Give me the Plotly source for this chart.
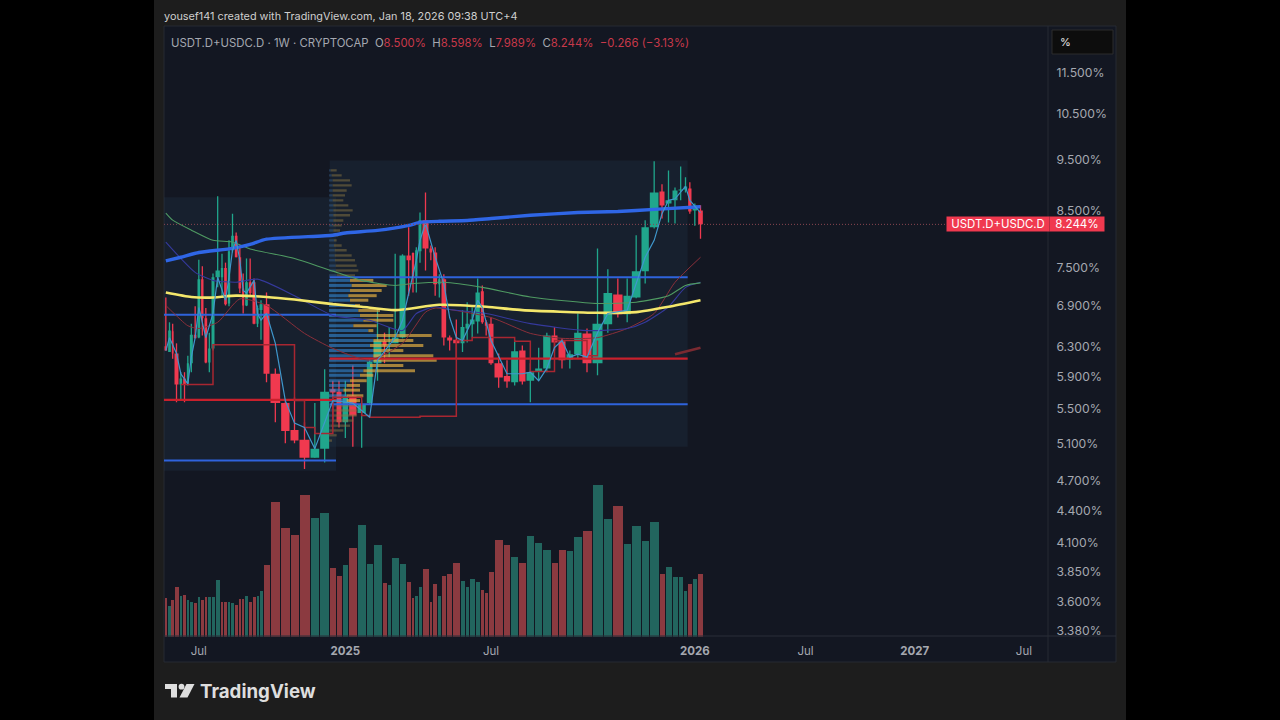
import numpy as np
import plotly.graph_objects as go

# ---------- Candles: week 1 .. 90 (last bar = week of 2026-01-12) ----------
opens = [6.31,6.23,6.52,6.21,5.80,5.88,5.81,6.08,6.47,6.43,
         7.31,6.71,6.09,6.28,7.34,7.34,7.49,6.93,7.79,8.04,
         7.67,7.16,6.90,7.26,7.26,6.63,6.83,6.92,5.94,5.57,
         5.25,5.14,4.94,5.04,5.74,5.71,5.34,5.66,5.45,5.57,
         6.08,6.38,6.35,6.35,6.43,7.70,7.74,7.34,7.77,8.32,
         7.82,7.75,7.23,7.31,6.43,6.40,6.35,6.56,6.62,6.66,
         7.12,6.65,6.63,6.08,5.91,5.83,6.25,5.85,5.97,6.01,
         6.46,6.38,6.13,6.20,6.49,6.08,6.62,7.07,6.77,7.02,
         7.44,8.19,8.86,8.63,8.69,8.88,8.90,8.92,8.50,8.50]
highs = [7.02,6.65,6.63,6.35,5.96,5.96,6.18,6.63,6.89,7.63,
         7.52,6.86,6.50,7.40,8.77,7.73,7.58,7.96,8.44,8.10,
         7.87,7.40,7.65,7.65,7.32,6.90,6.98,7.10,6.01,5.60,
         5.64,5.34,5.57,6.00,5.85,5.85,5.85,6.05,5.60,6.14,
         6.86,6.50,6.58,7.73,7.72,8.19,7.75,7.84,8.46,8.84,
         7.87,7.84,7.39,7.39,6.46,6.69,6.83,6.95,6.87,7.32,
         7.21,6.68,6.72,6.21,6.12,6.39,6.32,6.08,6.29,6.50,
         6.58,6.42,6.25,6.78,6.56,7.82,7.47,7.32,7.32,8.05,
         8.32,9.47,9.00,9.28,8.94,9.36,9.14,9.04,8.63,8.598]
lows = [6.25,6.23,6.14,5.58,5.60,5.58,5.79,5.96,6.42,6.42,
        6.46,6.08,5.96,6.25,7.18,7.05,6.90,6.89,7.75,7.67,
        7.09,6.78,6.89,7.05,6.62,6.58,6.40,5.83,5.34,5.10,
        5.10,4.82,4.94,4.89,5.34,5.28,5.16,5.06,5.05,5.55,
        5.85,6.08,6.16,6.35,6.42,7.05,7.10,7.10,7.58,7.45,
        7.62,7.05,7.02,6.32,6.25,6.14,6.23,6.36,6.43,6.49,
        6.63,6.46,6.06,5.76,5.76,5.79,5.80,5.58,5.85,5.96,
        6.25,6.01,6.01,6.14,5.96,5.92,6.50,6.72,6.65,7.01,
        7.24,8.17,8.35,8.28,8.26,8.69,8.84,8.44,8.22,7.989]
closes = [6.25,6.53,6.21,5.80,5.88,5.80,6.08,6.47,6.42,7.31,
          6.71,6.09,6.28,7.34,7.45,7.49,6.92,7.77,8.04,7.67,
          7.16,6.90,7.26,7.09,6.63,6.86,6.92,5.94,5.57,5.24,
          5.13,4.94,5.04,5.71,5.70,5.34,5.66,5.42,5.55,6.10,
          6.39,6.32,6.36,6.43,7.70,7.62,7.34,7.79,8.32,7.82,
          7.75,7.23,7.31,6.43,6.39,6.35,6.58,6.63,6.69,7.10,
          6.65,6.60,6.08,5.89,5.84,6.24,5.84,5.96,6.01,6.46,
          6.36,6.12,6.20,6.50,6.08,6.63,7.09,6.77,7.05,7.44,
          8.19,8.84,8.59,8.69,8.88,8.90,8.96,8.48,8.59,8.244]
volumes = [117,92,110,150,122,127,110,106,101,119,
           110,121,121,119,172,106,106,106,103,97,
           114,114,123,104,121,124,137,215,406,327,
           306,426,358,371,207,183,215,266,335,220,
           277,161,155,238,219,164,117,124,149,204,
           106,158,122,182,190,223,169,149,173,164,
           140,133,194,292,275,240,223,303,283,260,
           221,262,258,299,319,457,353,394,279,333,
           287,344,190,211,181,179,137,158,174,188]
volume_dir = list("rgrrgrggrg" "rrgggrrggr" "rrgrrggrrr" "rrggrrgrgg" "grgggrrggr"
                  "rrgrrrgggg" "rrrrrgrggg" "rrggrggrgg" "ggrggggrgr")
# Volume-candle weight of each week (the chart's time axis is volume weighted)
candle_weight = [11,11,8,15,11,11,9,12,11,11,
                 10,11,10,12,16,10,11,10,11,11,
                 11,9,11,11,12,9,12,21,32,28,
                 27,33,29,30,19,18,20,25,28,20,
                 27,15,13,23,21,16,10,10,12,21,
                 11,15,10,17,18,22,15,13,17,16,
                 12,11,18,28,22,24,22,26,24,25,
                 21,24,23,25,30,33,29,31,25,29,
                 25,29,18,21,18,16,13,13,17,17]
future_week_weight = 12.6
tick_weeks = [10, 37, 63, 89, 115, 141, 167]
tick_labels = ["Jul", "<b>2025</b>", "Jul", "<b>2026</b>", "Jul", "<b>2027</b>", "Jul"]
price_ticks = [3.38, 3.6, 3.85, 4.1, 4.4, 4.7, 5.1, 5.5, 5.9, 6.3, 6.9, 7.5, 8.5, 9.5, 10.5, 11.5]
price_labels = ["3.380%", "3.600%", "3.850%", "4.100%", "4.400%", "4.700%", "5.100%", "5.500%",
                "5.900%", "6.300%", "6.900%", "7.500%", "8.500%", "9.500%", "10.500%", "11.500%"]

# ---------- Indicators ----------
fast_weeks = [1,2,4,5,7,8,9,10,12,14,15,17,18,19,20,21,22,23,25,26,27,28,29,30,31,32,33,34,35,38,39,40,41,44,45,48,49,50,52,54,55,56,57,59,60,61,63,65,67,68,69,70,71,72,73,74,75,76,77,79,80,81,82,83,84,85,87,88,90]
fast_vals = [6.25,6.43,6.21,5.94,5.81,6.16,6.43,6.87,6.43,6.78,7.34,6.98,7.34,7.79,7.96,7.62,7.13,7.09,7.29,6.78,6.68,6.78,6.35,5.60,5.33,5.28,5.04,5.34,5.60,5.57,5.48,5.40,6.12,6.43,6.68,7.62,7.96,8.26,7.67,7.24,6.72,6.43,6.39,6.68,6.98,6.87,6.39,5.94,5.94,5.96,5.85,6.01,6.29,6.39,6.16,6.20,6.16,6.50,6.78,6.83,7.24,7.67,7.96,8.44,8.69,8.72,8.96,8.69,8.46]
vwap_weeks = [1,5,10,19,24,28,35,37,41,46,49,53,58,63,68,74,78,82,90]
vwap_vals = [7.61,7.67,7.75,7.82,7.89,7.98,8.05,8.09,8.135,8.225,8.28,8.30,8.315,8.35,8.41,8.46,8.48,8.52,8.57]
yellow_weeks = [1,8,13,20,28,31,35,39,44,53,62,67,76,80,84,90]
yellow_vals = [7.10,7.03,7.02,7.05,7.03,6.99,6.92,6.88,6.83,6.91,6.88,6.83,6.79,6.80,6.88,6.98]
green_weeks = [1,3,8,14,19,24,31,35,39,44,47,54,61,68,76,80,84,87,90]
green_vals = [8.45,8.32,8.14,7.96,7.93,7.81,7.65,7.44,7.29,7.21,7.24,7.26,7.18,7.03,6.93,6.95,7.05,7.21,7.25]
purple_weeks = [1,5,9,14,20,26,31,35,40,45,48,52,55,62,68,75,79,81,84,87,90]
purple_vals = [7.93,7.65,7.42,7.29,7.26,7.31,7.05,6.75,6.68,6.53,6.78,6.88,6.84,6.78,6.63,6.53,6.56,6.65,6.88,7.18,7.26]
darkred_weeks = [1,3,7,10,15,21,28,32,35,40,45,50,52,63,68,72,76,79,82,85,90]
darkred_vals = [6.90,6.80,6.60,6.56,6.65,7.00,6.90,6.49,6.28,6.12,6.35,6.80,6.86,6.72,6.49,6.42,6.43,6.56,6.78,7.26,7.67]
step_weeks = [5,14,31,32,33,35,39,40,49,56,59,66,68,71,75,76]
step_vals = [5.80,6.33,5.60,5.28,5.21,5.64,5.42,5.40,5.41,6.39,6.43,6.38,5.97,6.39,6.18,6.39]
stub_weeks = [85, 90]
stub_vals = [6.20, 6.29]

# ---------- Fixed range volume profiles ----------
left_range = dict(first=1, last=35, top=8.75, bottom=4.80, vah=6.76, poc=5.61, val=4.91)
right_range = dict(first=35, last=87, top=9.486, bottom=5.06, vah=7.34, poc=6.14, val=5.555)
vp_price = [9.28,9.18,9.08,8.98,8.88,8.785,8.69,8.595,8.50,8.41,8.315,8.225,8.135,8.05,7.96,7.87,7.79,7.70,7.62,7.53,7.45,7.37,
            7.29,7.21,7.13,7.05,6.98,6.90,6.825,6.75,6.68,6.60,6.53,6.46,6.39,6.32,6.25,6.18,6.12,6.05,5.98,5.92,5.85,5.79,5.73,5.66,5.60,
            5.54,5.48,5.42,5.36,5.30,5.245,5.19,5.13]
vp_buy = [5,8,11,11,11,11,11,13,13,13,13,13,13,15,15,15,17,17,18,20,20,23,
          63,68,63,58,63,78,88,93,103,73,118,143,133,123,133,133,133,123,103,93,63,53,43,53,53,
          23,13,13,8,5,3,1,0]
vp_sell = [18,30,52,57,42,37,32,45,58,50,30,25,20,13,8,23,36,51,60,63,68,55,
           70,105,95,85,55,15,65,100,90,70,15,165,120,160,90,180,190,100,155,40,50,40,50,50,40,
           60,70,70,65,58,40,22,9]

# ---------- Colours ----------
UP, DOWN = "#20a68c", "#f0394f"
VOL_UP, VOL_DOWN = "#22655e", "#8b3a40"
PANEL = "#131722"
TXT = "#a5a8b0"

# ---------- Time scale ----------
edges = np.concatenate([[0], np.cumsum(candle_weight)])
centers = (edges[:-1] + edges[1:]) / 2
GAP = 3
X_MAX = 2652


def wx(week):
    if week <= len(candle_weight):
        return float(centers[week - 1])
    return float(centers[-1] + (week - len(candle_weight)) * future_week_weight)


def wxs(weeks):
    return [wx(w) for w in weeks]


def px(x):
    return x / 1280


def py(y):
    return 1 - y / 720


fig = go.Figure()


def add(**kw):
    kw.setdefault("hoverinfo", "skip")
    kw.setdefault("showlegend", False)
    fig.add_trace(go.Scatter(**kw))


# Range boxes
for r in (left_range, right_range):
    l, h = edges[r["first"] - 1], edges[r["last"]]
    add(x=[l, h, h, l, l], y=[r["top"], r["top"], r["bottom"], r["bottom"], r["top"]],
        mode="lines", line=dict(width=0), fill="toself", fillcolor="rgba(40,70,95,0.20)")

# Volume bars
fig.add_trace(go.Bar(x=centers, y=volumes, width=np.array(candle_weight) - GAP, yaxis="y2",
                     marker=dict(color=[VOL_UP if d == "g" else VOL_DOWN for d in volume_dir], line_width=0),
                     hoverinfo="skip", showlegend=False))

# Candles
for color, test in ((UP, lambda o, c: c >= o), (DOWN, lambda o, c: c < o)):
    wick_x, wick_y, body_x, body_y = [], [], [], []
    for i, (o, h, l, c) in enumerate(zip(opens, highs, lows, closes)):
        if not test(o, c):
            continue
        cx = centers[i]
        half = (candle_weight[i] - GAP) / 2
        wick_x += [cx, cx, None]
        wick_y += [h, l, None]
        body_x += [cx - half, cx + half, cx + half, cx - half, cx - half, None]
        body_y += [o, o, c, c, o, None]
    add(x=wick_x, y=wick_y, mode="lines", line=dict(color=color, width=1.3))
    add(x=body_x, y=body_y, mode="lines", line=dict(width=0, color=color), fill="toself", fillcolor=color)

# Volume profile rows
vp_left = edges[right_range["first"] - 1] - 2
rows = {"dim_b": ([], []), "dim_g": ([], []), "va_b": ([], []), "va_g": ([], [])}
for p, b, s in zip(vp_price, vp_buy, vp_sell):
    va = right_range["val"] <= p <= right_range["vah"]
    kb, kg = ("va_b", "va_g") if va else ("dim_b", "dim_g")
    rows[kb][0].extend([vp_left, vp_left + b, None])
    rows[kb][1].extend([p, p, None])
    rows[kg][0].extend([vp_left + b, vp_left + b + s, None])
    rows[kg][1].extend([p, p, None])
row_colors = {"dim_b": "rgba(60,105,155,0.38)", "dim_g": "rgba(135,115,65,0.50)",
              "va_b": "rgba(50,135,210,0.60)", "va_g": "rgba(225,172,65,0.70)"}
row_widths = {"dim_b": 2.4, "dim_g": 2.4, "va_b": 3.0, "va_g": 3.0}
for k, (xs, ys) in rows.items():
    add(x=xs, y=ys, mode="lines", line=dict(color=row_colors[k], width=row_widths[k]))

# Value area and POC levels
LEVEL_BLUE, LEVEL_RED = "#2f63dc", "#c9202c"
for r in (left_range, right_range):
    l, h = edges[r["first"] - 1], edges[r["last"]]
    add(x=[l, h], y=[r["vah"]] * 2, mode="lines", line=dict(color=LEVEL_BLUE, width=2))
    add(x=[l, h], y=[r["val"]] * 2, mode="lines", line=dict(color=LEVEL_BLUE, width=2))
    add(x=[l, h], y=[r["poc"]] * 2, mode="lines", line=dict(color=LEVEL_RED, width=2.2))

# Moving averages
add(x=wxs(step_weeks), y=step_vals, mode="lines", line=dict(color="#a82631", width=1.5, shape="hv"))
add(x=wxs(darkred_weeks), y=darkred_vals, mode="lines", line=dict(color="#8a2f3a", width=1, shape="spline", smoothing=0.6))
add(x=wxs(purple_weeks), y=purple_vals, mode="lines", line=dict(color="#35399c", width=1.1, shape="spline", smoothing=0.6))
add(x=wxs(green_weeks), y=green_vals, mode="lines", line=dict(color="#4f9a62", width=1.1, shape="spline", smoothing=0.6))
add(x=wxs(yellow_weeks), y=yellow_vals, mode="lines", line=dict(color="#f4e76b", width=2.6, shape="spline", smoothing=0.6))
add(x=wxs(vwap_weeks), y=vwap_vals, mode="lines", line=dict(color="#2f66e6", width=3.4, shape="spline", smoothing=0.5))
add(x=wxs(fast_weeks), y=fast_vals, mode="lines", line=dict(color="#3f97cc", width=1.2))
add(x=wxs(stub_weeks), y=stub_vals, mode="lines", line=dict(color="#7a2a31", width=2.6))

# Last price line
add(x=[0, X_MAX], y=[closes[-1]] * 2, mode="lines", line=dict(color="#8a4650", width=1, dash="1px,2px"))

FONT = "Inter, Roboto, sans-serif"
RED = "#c8394a"
header = ("USDT.D+USDC.D · 1W · CRYPTOCAP&nbsp;&nbsp;"
          f"O<span style='color:{RED}'>8.500%</span>&nbsp;&nbsp;H<span style='color:{RED}'>8.598%</span>&nbsp;&nbsp;"
          f"L<span style='color:{RED}'>7.989%</span>&nbsp;&nbsp;C<span style='color:{RED}'>8.244%</span>&nbsp;&nbsp;"
          f"<span style='color:{RED}'>−0.266 (−3.13%)</span>")


def note(x, y, text, size=11.5, color=TXT, anchor="left", **kw):
    return dict(xref="paper", yref="paper", x=px(x), y=py(y), text=text, showarrow=False,
                xanchor=anchor, yanchor="middle", font=dict(family=FONT, size=size, color=color),
                align="left", **kw)


annotations = [
    note(162, 16, "yousef141 created with TradingView.com, Jan 18, 2026 09:38 UTC+4", size=10.85, color="#cfcfcf"),
    note(169, 43, header, size=11.37, color="#a5a8b0"),
    note(1058, 42, "%", size=11, color="#e8e8e8"),
    note(198, 691, "<b>TradingView</b>", size=18.7, color="#dedede"),
    dict(xref="paper", yref="y", x=px(946), y=float(np.log10(closes[-1])), text="USDT.D+USDC.D", showarrow=False,
         xanchor="left", yanchor="middle", width=102, height=14, bgcolor="#f0394f", borderpad=0, align="center",
         font=dict(family=FONT, size=11.4, color="#ffffff")),
    dict(xref="paper", yref="y", x=px(1049), y=float(np.log10(closes[-1])), text="8.244%", showarrow=False,
         xanchor="left", yanchor="middle", width=54, height=14, bgcolor="#f0394f", borderpad=0, align="center",
         font=dict(family=FONT, size=11.6, color="#ffffff")),
]


def rect(x0, y0, x1, y1, fill, line=None, layer="below"):
    return dict(type="rect", xref="paper", yref="paper", x0=px(x0), x1=px(x1), y0=py(y0), y1=py(y1),
                fillcolor=fill, line=dict(color=line or fill, width=1 if line else 0), layer=layer)


def hline(x0, x1, y, color):
    return dict(type="line", xref="paper", yref="paper", x0=px(x0), x1=px(x1), y0=py(y), y1=py(y),
                line=dict(color=color, width=1), layer="above")


def vline(x, y0, y1, color):
    return dict(type="line", xref="paper", yref="paper", x0=px(x), x1=px(x), y0=py(y0), y1=py(y1),
                line=dict(color=color, width=1), layer="above")


def poly(points, fill):
    d = "M " + " L ".join(f"{px(a):.5f},{py(b):.5f}" for a, b in points) + " Z"
    return dict(type="path", xref="paper", yref="paper", path=d, fillcolor=fill, line=dict(width=0), layer="above")


shapes = [
    rect(154, 0, 1126, 720, "#1d1d1d"),
    rect(164, 26, 1116, 662, PANEL, "#262a33"),
    hline(164, 1116, 636, "#2b2f38"),
    vline(1048, 26, 662, "#262a33"),
    rect(1052, 30, 1113, 54, "#0d0d0d", "#2c2c2c", layer="above"),
    poly([(165, 684), (177, 684), (177, 697.5), (171, 697.5), (171, 689), (165, 689)], "#dedede"),
    dict(type="circle", xref="paper", yref="paper", x0=px(178.6), x1=px(184.4), y0=py(689.6), y1=py(683.8),
         fillcolor="#dedede", line=dict(width=0), layer="above"),
    poly([(186.5, 684), (194.5, 684), (187.5, 697.5), (179.5, 697.5)], "#dedede"),
]

y_top, y_bottom = 26.7, 636.7
fig.update_layout(
    width=1280, height=720, margin=dict(l=0, r=0, t=0, b=0), autosize=False,
    paper_bgcolor="#000000", plot_bgcolor="rgba(0,0,0,0)", bargap=0, barmode="overlay",
    font=dict(family=FONT, color=TXT),
    xaxis=dict(domain=[px(164), px(1048)], range=[0, X_MAX], showgrid=False, zeroline=False, showline=False,
               tickmode="array", tickvals=[wx(w) for w in tick_weeks], ticktext=tick_labels,
               ticks="outside", ticklen=3, tickcolor="rgba(0,0,0,0)", tickfont=dict(family=FONT, size=11.5, color=TXT)),
    yaxis=dict(domain=[py(y_bottom), py(y_top)], type="log", range=[float(np.log10(3.336)), float(np.log10(12.72))],
               side="right", showgrid=False, zeroline=False, showline=False, tickmode="array",
               tickvals=price_ticks, ticktext=price_labels, ticks="outside", ticklen=5,
               tickcolor="rgba(0,0,0,0)", tickfont=dict(family=FONT, size=12.2, color=TXT), anchor="x"),
    yaxis2=dict(domain=[py(y_bottom), py(y_top)], overlaying="y", range=[0, 1830], visible=False),
    annotations=annotations, shapes=shapes,
)

fig.write_html("out.html", config={"displayModeBar": False},
               post_script="document.body.style.margin='0';document.body.style.overflow='hidden';")
